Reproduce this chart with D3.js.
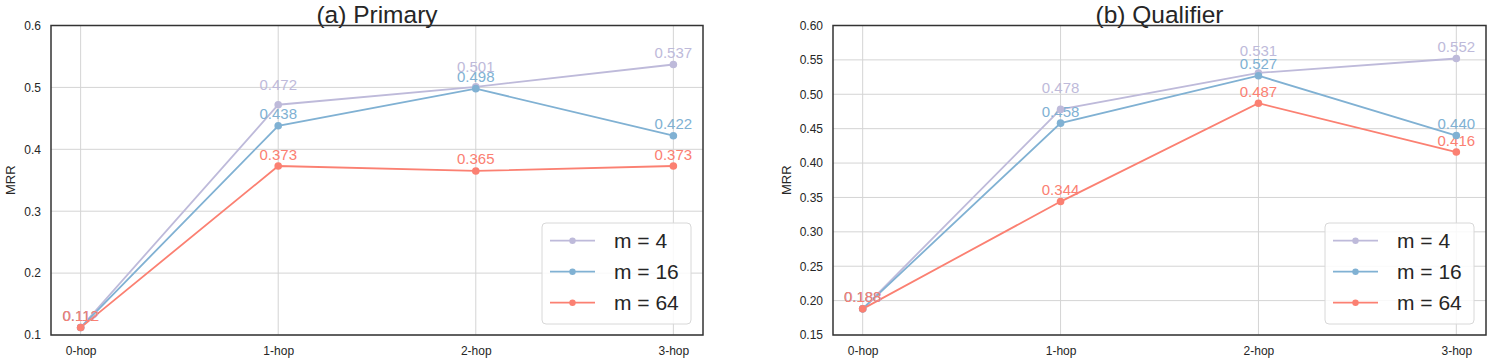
<!DOCTYPE html>
<html>
<head>
<meta charset="utf-8">
<script src="https://cdn.jsdelivr.net/npm/d3@7"></script>
<style>
  html, body { margin: 0; padding: 0; background: #fff; }
  svg { display: block; font-family: "Liberation Sans", Arial, sans-serif; }
</style>
</head>
<body>
<svg id="chart" width="1499" height="364"></svg>
<script>
// ---------- data ----------
const hops = ["0-hop", "1-hop", "2-hop", "3-hop"];
const seriesNames = ["m = 4", "m = 16", "m = 64"];
const seriesColors = ["#bebada", "#80b1d3", "#fb8072"];

const primaryM4  = [0.112, 0.472, 0.501, 0.537];
const primaryM16 = [0.112, 0.438, 0.498, 0.422];
const primaryM64 = [0.112, 0.373, 0.365, 0.373];

const qualifierM4  = [0.188, 0.478, 0.531, 0.552];
const qualifierM16 = [0.188, 0.458, 0.527, 0.440];
const qualifierM64 = [0.188, 0.344, 0.487, 0.416];

const primaryTicks   = [0.1, 0.2, 0.3, 0.4, 0.5, 0.6];
const qualifierTicks = [0.15, 0.20, 0.25, 0.30, 0.35, 0.40, 0.45, 0.50, 0.55, 0.60];

// ---------- layout ----------
const plotTop = 25.5, plotBottom = 335;
const panels = [
  { title: "(a) Primary", left: 51, right: 703, domain: [0.1, 0.6], ticks: primaryTicks, fmt: ".1f",
    series: [primaryM4, primaryM16, primaryM64], extraLift: 8.5, ylabOff: 36 },
  { title: "(b) Qualifier", left: 833, right: 1486, domain: [0.15, 0.6], ticks: qualifierTicks, fmt: ".2f",
    series: [qualifierM4, qualifierM16, qualifierM64], extraLift: 10, ylabOff: 42 }
];

const svg = d3.select("#chart");
const textColor = "#262626";

panels.forEach(p => {
  const g = svg.append("g");
  const x = d3.scalePoint().domain(hops).range([p.left, p.right]).padding(0.15);
  const y = d3.scaleLinear().domain(p.domain).range([plotBottom, plotTop]);

  // grid
  g.append("g").selectAll("line").data(p.ticks).join("line")
    .attr("x1", p.left).attr("x2", p.right)
    .attr("y1", d => y(d)).attr("y2", d => y(d))
    .attr("stroke", "#d4d4d4").attr("stroke-width", 1);
  g.append("g").selectAll("line").data(hops).join("line")
    .attr("x1", d => x(d)).attr("x2", d => x(d))
    .attr("y1", plotTop).attr("y2", plotBottom)
    .attr("stroke", "#d4d4d4").attr("stroke-width", 1);

  // axes (labels only)
  const yAxis = d3.axisLeft(y).tickValues(p.ticks).tickFormat(d3.format(p.fmt)).tickSize(0).tickPadding(10);
  const ya = g.append("g").attr("transform", `translate(${p.left},0)`).call(yAxis);
  ya.select(".domain").remove();
  ya.selectAll("text").attr("font-size", 12).attr("fill", textColor)
    .attr("font-family", "Liberation Sans, Arial, sans-serif");

  const xAxis = d3.axisBottom(x).tickSize(0).tickPadding(11.5);
  const xa = g.append("g").attr("transform", `translate(0,${plotBottom})`).call(xAxis);
  xa.select(".domain").remove();
  xa.selectAll("text").attr("font-size", 12).attr("fill", textColor)
    .attr("font-family", "Liberation Sans, Arial, sans-serif");

  // y label
  g.append("text")
    .attr("transform", `translate(${p.left - p.ylabOff},${(plotTop + plotBottom) / 2}) rotate(-90)`)
    .attr("text-anchor", "middle").attr("font-size", 13).attr("fill", textColor)
    .text("MRR");

  // title
  g.append("text")
    .attr("x", (p.left + p.right) / 2).attr("y", 22.5)
    .attr("text-anchor", "middle").attr("font-size", 24.5).attr("fill", textColor)
    .text(p.title);

  const line = d3.line().x((d, i) => x(hops[i])).y(d => y(d));

  // lines
  p.series.forEach((vals, si) => {
    g.append("path").datum(vals)
      .attr("d", line).attr("fill", "none")
      .attr("stroke", seriesColors[si]).attr("stroke-width", 1.8);
  });
  // labels
  p.series.forEach((vals, si) => {
    g.append("g").selectAll("text").data(vals).join("text")
      .attr("x", (d, i) => x(hops[i]))
      .attr("y", (d, i) => y(d) - 6.5 - (si === 0 && (i === 1 || i === 2) ? p.extraLift : 0))
      .attr("text-anchor", "middle").attr("font-size", 15)
      .attr("fill", seriesColors[si])
      .text(d => d3.format(".3f")(d));
  });
  // markers
  p.series.forEach((vals, si) => {
    g.append("g").selectAll("circle").data(vals).join("circle")
      .attr("cx", (d, i) => x(hops[i])).attr("cy", d => y(d))
      .attr("r", 3.8).attr("fill", seriesColors[si]);
  });

  // frame
  g.append("rect")
    .attr("x", p.left).attr("y", plotTop)
    .attr("width", p.right - p.left).attr("height", plotBottom - plotTop)
    .attr("fill", "none").attr("stroke", "#333").attr("stroke-width", 1.5);

  // legend
  const lw = 149, lh = 101;
  const lx = p.right - 12 - lw, ly = 223;
  const lg = g.append("g");
  lg.append("rect").attr("x", lx).attr("y", ly).attr("width", lw).attr("height", lh)
    .attr("rx", 4).attr("fill", "#fff").attr("fill-opacity", 0.85)
    .attr("stroke", "#d8d8d8").attr("stroke-width", 1);
  seriesNames.forEach((name, si) => {
    const yy = ly + 17.7 + si * 31;
    lg.append("line").attr("x1", lx + 8).attr("x2", lx + 53).attr("y1", yy).attr("y2", yy)
      .attr("stroke", seriesColors[si]).attr("stroke-width", 1.8);
    lg.append("circle").attr("cx", lx + 30.5).attr("cy", yy).attr("r", 3.2)
      .attr("fill", seriesColors[si]);
    lg.append("text").attr("x", lx + 72).attr("y", yy).attr("dy", "0.36em")
      .attr("font-size", 21).attr("fill", textColor).text(name);
  });
});
</script>
</body>
</html>
